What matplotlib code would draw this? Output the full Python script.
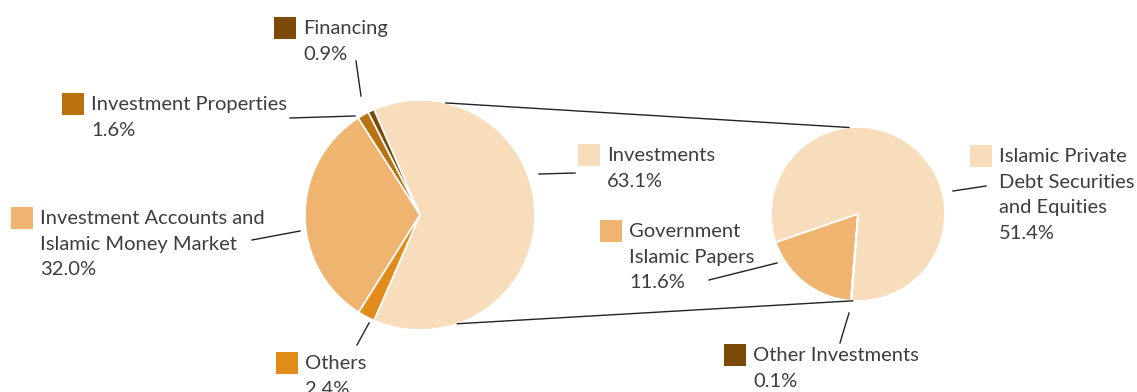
import numpy as np
import matplotlib.pyplot as plt

# left pie (total assets breakdown)
left_names = ["Investments", "Financing", "Investment Properties",
              "Investment Accounts and\nIslamic Money Market", "Others"]
left_values = [63.1, 0.9, 1.6, 32.0, 2.4]
left_colors = ["#F7DDBC", "#7A4A06", "#B9720F", "#EFB46F", "#E08B1A"]

# right pie (split of investments)
right_names = ["Islamic Private\nDebt Securities\nand Equities",
               "Government\nIslamic Papers", "Other Investments"]
right_values = [51.4, 11.6, 0.1]
right_colors = ["#F7DDBC", "#EFB46F", "#7A4A06"]

W, H = 1137, 392


def py(y):
    # pixel row -> data y
    return H - y


fig = plt.figure(figsize=(W / 100, H / 100), dpi=100)
ax = fig.add_axes([0, 0, 1, 1])

lc = (420, py(215))
lr = 115
rc = (858, py(214))
rr = 87

ax.pie(left_values, colors=left_colors, center=lc, radius=lr,
       startangle=-113.6, counterclock=True,
       explode=[0, 0.1, 0, 0, 0],
       wedgeprops=dict(edgecolor="white", linewidth=1.2))
ax.pie(right_values, colors=right_colors, center=rc, radius=rr,
       startangle=-94.2, counterclock=True,
       explode=[0, 0, 0.12],
       wedgeprops=dict(edgecolor="white", linewidth=1.2))


def on_circle(c, r, deg):
    a = np.deg2rad(deg)
    return c[0] + r * np.cos(a), c[1] + r * np.sin(a)


# connector lines between the two pies
for la, ra in [(77, 96), (-71, 266.5)]:
    x0, y0 = on_circle(lc, lr, la)
    x1, y1 = on_circle(rc, rr, ra)
    ax.plot([x0, x1], [y0, y1], color="#222222", lw=1)

text_color = "#3d3d3d"
fsize = 14.5

# label layout: square left x, first baseline (pixels), leader line
left_layout = [
    (578, 161, [(539, 174), (575, 173)]),
    (274, 34, [(356, 61), (361, 96)]),
    (62, 110, [(290, 118), (355, 116)]),
    (11, 224, [(252, 240), (300, 231)]),
    (276, 369, [(357, 345), (369, 323)]),
]
right_layout = [
    (970, 162, [(953, 191), (986, 186)]),
    (600, 237, [(709, 280), (777, 263)]),
    (724, 361, [(840, 343), (849, 313)]),
]


def draw_label(name, value, color, layout):
    sx, base, leader = layout
    sq = 22
    ax.add_patch(plt.Rectangle((sx, py(base + 5)), sq, sq, color=color, lw=0))
    lines = name.split("\n") + [f"{value:.1f}%"]
    for i, line in enumerate(lines):
        ax.text(sx + sq + 7, py(base + i * 25.7), line, color=text_color,
                fontsize=fsize, family="Lato", va="baseline", ha="left")
    (x0, y0), (x1, y1) = leader
    ax.plot([x0, x1], [py(y0), py(y1)], color="#222222", lw=1)


for n, v, c, lay in zip(left_names, left_values, left_colors, left_layout):
    draw_label(n, v, c, lay)
for n, v, c, lay in zip(right_names, right_values, right_colors, right_layout):
    draw_label(n, v, c, lay)

ax.set_xlim(0, W)
ax.set_ylim(0, H)
ax.set_aspect("auto")
ax.axis("off")
fig.savefig("out.png", dpi=100)
